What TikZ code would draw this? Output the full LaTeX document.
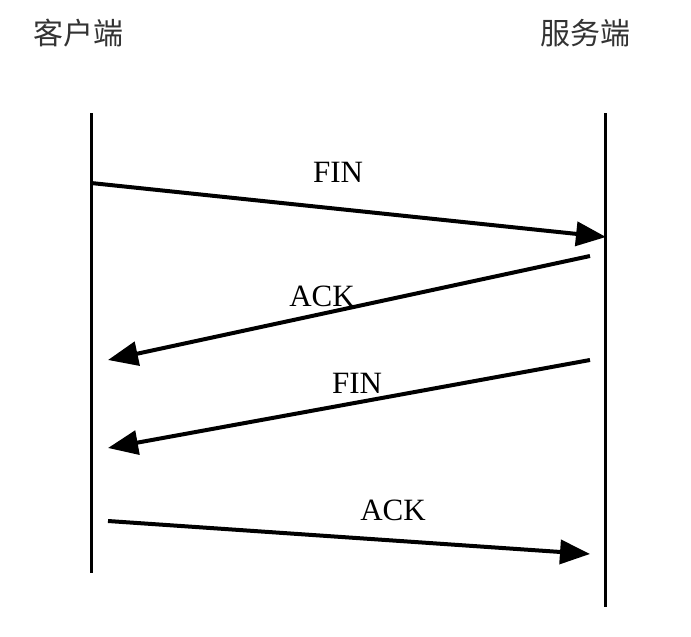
\documentclass[tikz,border=0pt]{standalone}
\usepackage{fontspec}
\setmainfont{Liberation Serif}
\newfontfamily\cjk{Noto Sans CJK SC}
\usetikzlibrary{arrows.meta}
\begin{document}
\begin{tikzpicture}[x=1pt,y=-1pt,
  lifeline/.style={line width=3pt},
  msg/.style={line width=4pt,-{Triangle[length=30pt,width=24pt]}},
  lbl/.style={font=\fontsize{31}{31}\selectfont,inner sep=0pt},
  head/.style={font=\cjk\fontsize{30}{30}\selectfont,inner sep=0pt,text=black!80}]
\useasboundingbox (0,0) rectangle (691,637);
\node[head] (client) at (78,33) {客户端};
\node[head] (server) at (585,33) {服务端};
\coordinate (ctop) at (91,113);
\coordinate (cbot) at (91,573);
\coordinate (stop) at (605,113);
\coordinate (sbot) at (605,607);
\draw[lifeline] (ctop) -- (cbot);
\draw[lifeline] (stop) -- (sbot);
\coordinate (a1s) at (91,183);
\coordinate (a1e) at (606,237);
\coordinate (a2s) at (590,256);
\coordinate (a2e) at (108,360);
\coordinate (a3s) at (590,360);
\coordinate (a3e) at (108,448);
\coordinate (a4s) at (108,521);
\coordinate (a4e) at (590,554);
\draw[msg] (a1s) -- (a1e);
\draw[msg] (a2s) -- (a2e);
\draw[msg] (a3s) -- (a3e);
\draw[msg] (a4s) -- (a4e);
\node[lbl] (l1) at (338,172) {FIN};
\node[lbl] (l2) at (322,296) {ACK};
\node[lbl] (l3) at (357,383) {FIN};
\node[lbl] (l4) at (393,510) {ACK};
\end{tikzpicture}
\end{document}
